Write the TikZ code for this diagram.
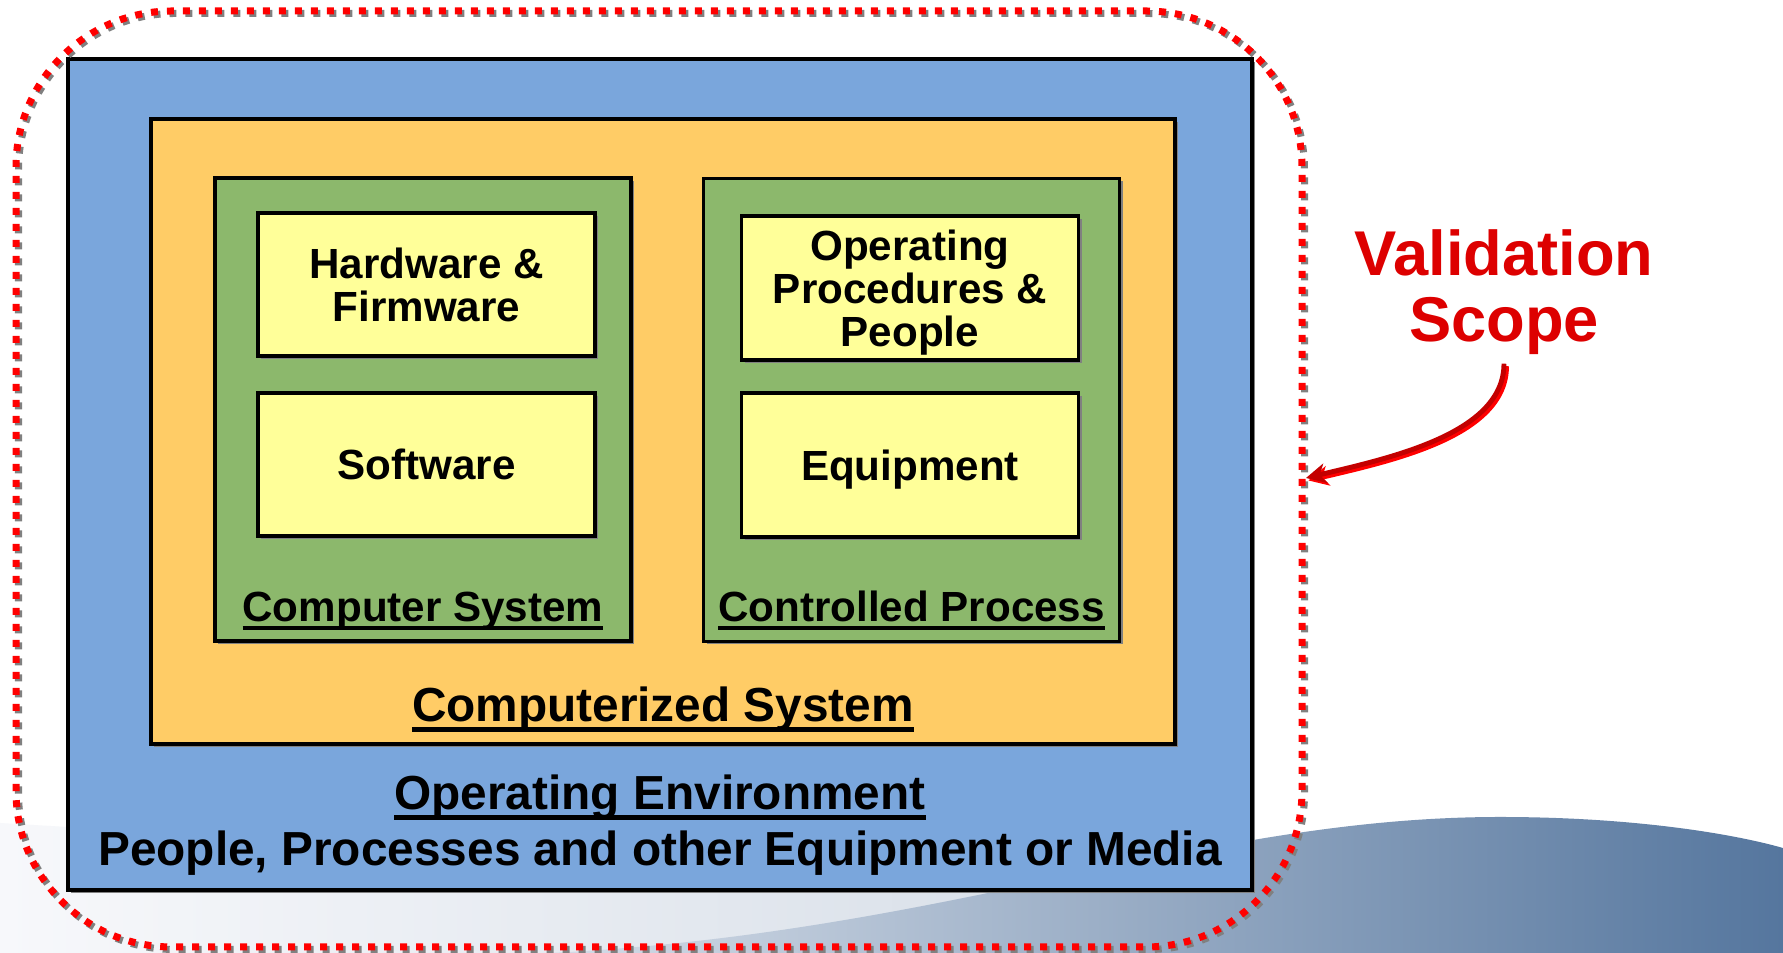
\documentclass[tikz,border=0pt]{standalone}
\usepackage{fontspec}
\setmainfont{Liberation Sans}
\usetikzlibrary{arrows.meta,shadows}
\definecolor{envblue}{RGB}{122,166,220}
\definecolor{sysorange}{RGB}{255,204,102}
\definecolor{procgreen}{RGB}{140,184,108}
\definecolor{partyellow}{RGB}{255,255,153}
\definecolor{scopered}{RGB}{221,0,0}
\definecolor{arrowred}{RGB}{195,0,0}
\definecolor{wavedark}{RGB}{85,118,158}
\definecolor{wavemid}{RGB}{212,220,231}
\definecolor{wavelight}{RGB}{247,248,251}
\definecolor{wavepale}{RGB}{196,207,220}
\newcommand{\undertext}[1]{\setbox0=\hbox{#1}\rlap{\rule[-0.2em]{\wd0}{0.1em}}\box0}
\tikzset{
  boxshadow/.style={drop shadow={shadow xshift=0.03cm,shadow yshift=-0.03cm,fill=gray,opacity=1}},
  plainbox/.style={draw=black,line width=0.9pt,boxshadow,inner sep=0pt},
  envbox/.style={plainbox,fill=envblue},
  sysbox/.style={plainbox,fill=sysorange},
  procbox/.style={plainbox,fill=procgreen,minimum width=4.16cm,minimum height=4.63cm},
  partbox/.style={plainbox,fill=partyellow,minimum width=3.37cm,minimum height=1.43cm,
    align=center,text depth=0pt,font=\fontsize{12}{12.2}\selectfont\bfseries},
  boxlabel/.style={inner sep=0pt,anchor=base,font=\fontsize{12}{12.2}\selectfont\bfseries},
  biglabel/.style={inner sep=0pt,anchor=base,font=\fontsize{13.6}{14}\selectfont\bfseries},
  scopeline/.style={line width=0.07cm,dash pattern=on 0.07cm off 0.09cm,rounded corners=1.56cm},
  scopearrow/.style={line width=1.4pt,-{Stealth[length=2mm,width=2mm,inset=0.6mm]}}
}
\begin{document}
\begin{tikzpicture}
  \useasboundingbox (0,0) rectangle (17.83,9.53);
  \fill[white] (0,0) rectangle (17.83,9.53); %background
  \shade[left color=wavelight,right color=wavepale] (0,1.30) .. controls (5,1.0) and (12,0.7) .. (17.83,0.5)
    -- (17.83,0) -- (0,0) -- cycle; %light wave
  \shade[left color=wavemid,right color=wavedark] (5.5,0) .. controls (9.5,0.2) and (12,1.36) .. (15,1.36)
    .. controls (16.3,1.36) and (17.3,1.2) .. (17.83,1.05) -- (17.83,0) -- cycle; %dark wave
  %nested boxes
  \node[envbox,minimum width=11.84cm,minimum height=8.31cm] (env) at (6.60,4.785) {};
  \node[sysbox,minimum width=10.24cm,minimum height=6.25cm] (csys) at (6.63,5.215) {};
  \node[procbox] (comp) at (4.23,5.435) {};
  \node[procbox] (ctrl) at (9.115,5.43) {};
  \node[partbox] (hw) at (4.265,6.685) {Hardware \&\\Firmware};
  \node[partbox] (sw) at (4.265,4.885) {Software};
  \node[partbox,minimum height=1.44cm] (op) at (9.10,6.65) {Operating\\Procedures \&\\People};
  \node[partbox,minimum height=1.44cm] (eq) at (9.10,4.88) {Equipment};
  %labels
  \node[boxlabel] (complbl) at (4.23,3.31) {\undertext{Computer System}};
  \node[boxlabel] (ctrllbl) at (9.115,3.31) {\undertext{Controlled Process}};
  \node[biglabel] (csyslbl) at (6.63,2.31) {\undertext{Computerized System}};
  \node[biglabel] (envlbl) at (6.60,1.43) {\undertext{Operating Environment}};
  \node[biglabel] (envtxt) at (6.60,0.87) {People, Processes and other Equipment or Media};
  %validation scope
  \draw[scopeline,gray] (0.185,0.035) rectangle (13.045,9.395); %shadow of dots
  \draw[scopeline,red] (0.16,0.06) rectangle (13.02,9.42);
  \node[text=scopered,align=center,inner sep=0.08cm,font=\fontsize{18}{18.8}\selectfont\bfseries]
    (scope) at (15.04,6.605) {Validation\\Scope};
  \coordinate (tip) at (13.06,4.75);
  \draw[scopearrow,red] ([shift={(0.025,-0.025)}]scope.south) .. controls +(0,-0.7) and +(0.84,0.2) .. ([shift={(0.025,-0.025)}]tip);
  \draw[scopearrow,arrowred] (scope.south) .. controls +(0,-0.7) and +(0.84,0.2) .. (tip);
\end{tikzpicture}
\end{document}
